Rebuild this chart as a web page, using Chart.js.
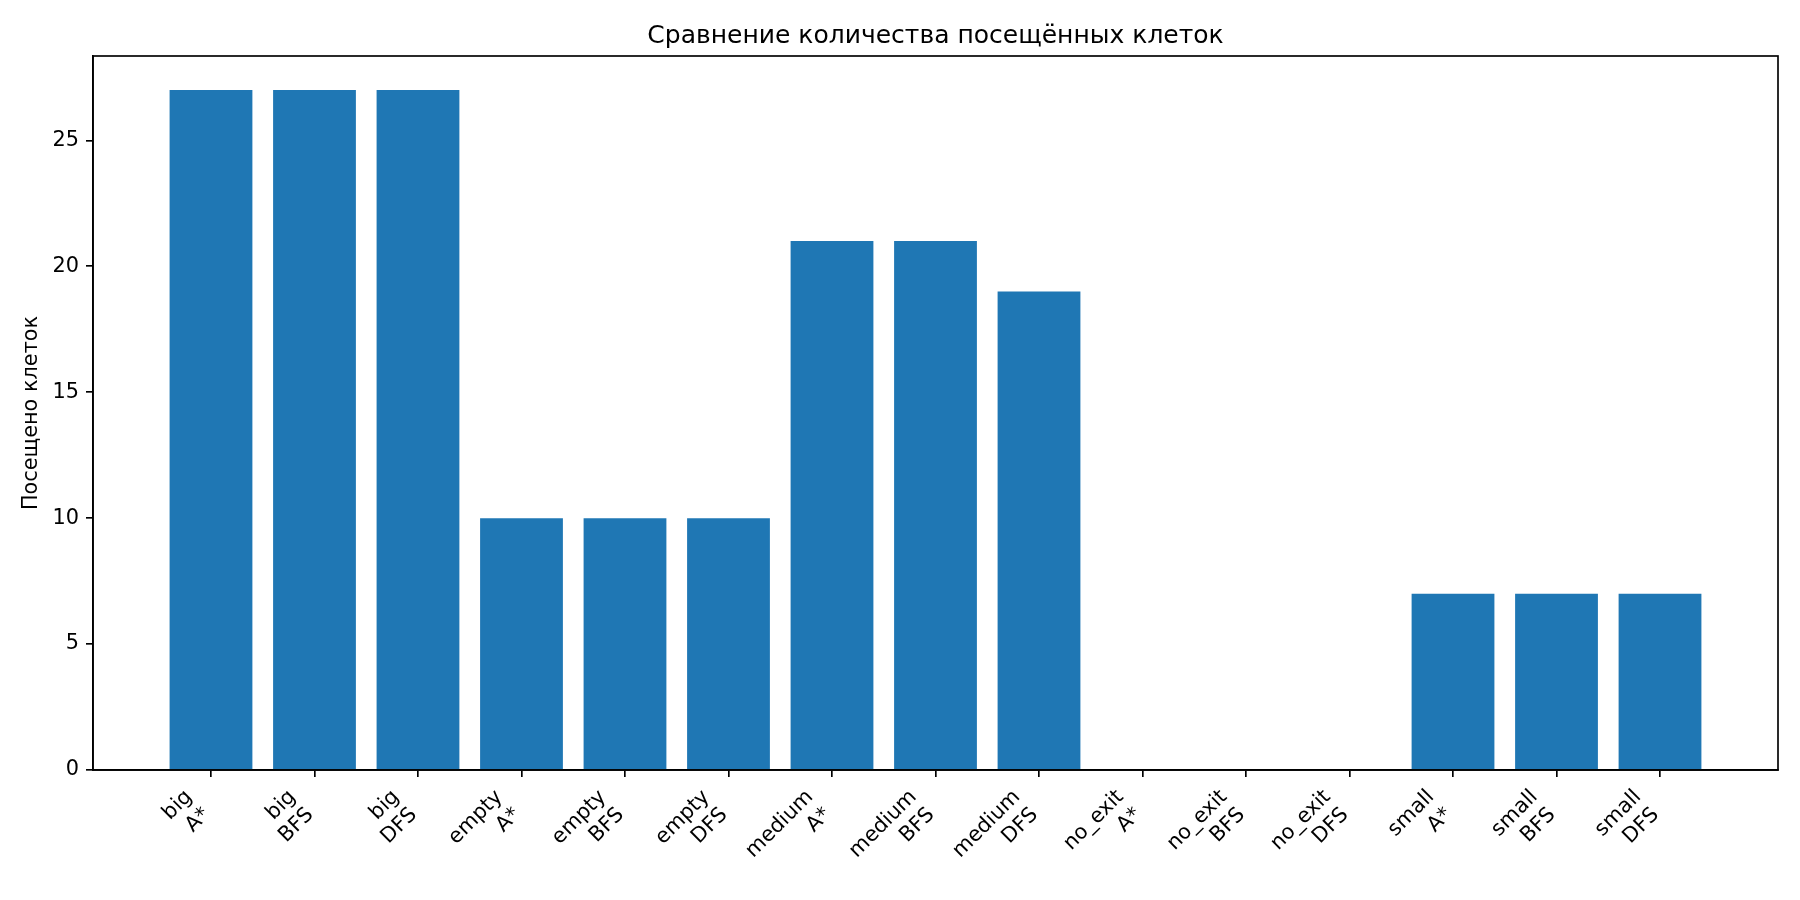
<!DOCTYPE html>
<html>
<head>
<meta charset="utf-8">
<script src="https://cdn.jsdelivr.net/npm/chart.js@4/dist/chart.umd.min.js"></script>
<style>
  html, body { margin: 0; padding: 0; background: #fff; }
  #wrap { width: 1800px; height: 900px; position: relative; }
</style>
</head>
<body>
<div id="wrap"><canvas id="c" width="1800" height="900"></canvas></div>
<script>
// ---- data ----
const mazes = ['big','big','big','empty','empty','empty','medium','medium','medium','no_exit','no_exit','no_exit','small','small','small'];
const algorithms = ['A*','BFS','DFS','A*','BFS','DFS','A*','BFS','DFS','A*','BFS','DFS','A*','BFS','DFS'];
const visited = [27,27,27,10,10,10,21,21,19,0,0,0,7,7,7];
const yTicks = [0,5,10,15,20,25];
const titleText = 'Сравнение количества посещённых клеток';
const yLabel = 'Посещено клеток';

const FONT = "'DejaVu Sans', 'Liberation Sans', sans-serif";
const tickFont = { family: FONT, size: 20.83, lineHeight: 1.2 };

const points = visited.map((v, i) => ({ x: i, y: v }));

const framePlugin = {
  id: 'frame',
  afterDatasetsDraw(chart) {
    const a = chart.chartArea, ctx = chart.ctx;
    ctx.save();
    ctx.strokeStyle = '#000';
    ctx.lineWidth = 1.67;
    ctx.strokeRect(a.left, a.top, a.right - a.left, a.bottom - a.top);
    ctx.restore();
  }
};

new Chart(document.getElementById('c'), {
  type: 'bar',
  data: {
    datasets: [{
      data: points,
      backgroundColor: '#1f77b4',
      borderWidth: 0,
      barPercentage: 0.8,
      categoryPercentage: 1.0
    }]
  },
  options: {
    responsive: false,
    animation: false,
    devicePixelRatio: 1,
    layout: { padding: { left: 0, right: 22, top: 0, bottom: 0 } },
    plugins: {
      legend: { display: false },
      tooltip: { enabled: false },
      title: {
        display: true,
        fullSize: false,
        text: titleText,
        color: '#000',
        font: { family: FONT, size: 25, weight: 'normal', lineHeight: 1.2 },
        padding: { top: 21, bottom: 5 }
      }
    },
    scales: {
      x: {
        type: 'linear',
        min: -1.14,
        max: 15.14,
        offset: false,
        afterBuildTicks(scale) {
          scale.ticks = mazes.map((m, i) => ({ value: i }));
        },
        afterFit(scale) { scale.height = 130; },
        grid: { display: true, offset: false, drawOnChartArea: false, drawTicks: true, tickLength: 7, color: '#000', lineWidth: 1.67 },
        border: { display: true, color: '#000', width: 1.67 },
        ticks: {
          autoSkip: false,
          maxRotation: 45,
          minRotation: 45,
          labelOffset: -22,
          padding: 8,
          color: '#000',
          font: tickFont,
          callback: (v) => {
            const i = Math.round(v);
            return (i >= 0 && i < mazes.length) ? [mazes[i], algorithms[i]] : '';
          }
        }
      },
      y: {
        min: 0,
        max: 28.35,
        afterBuildTicks(scale) {
          scale.ticks = yTicks.map(v => ({ value: v }));
        },
        afterFit(scale) { scale.width = 93; },
        grid: { display: true, drawOnChartArea: false, drawTicks: true, tickLength: 7, color: '#000', lineWidth: 1.67 },
        border: { display: true, color: '#000', width: 1.67 },
        ticks: {
          padding: 7,
          color: '#000',
          font: tickFont,
          callback: (v) => String(v)
        },
        title: {
          display: true,
          text: yLabel,
          color: '#000',
          font: { family: FONT, size: 20.83, lineHeight: 1.2 },
          padding: { top: 19, bottom: 0 }
        }
      }
    }
  },
  plugins: [framePlugin]
});
</script>
</body>
</html>
